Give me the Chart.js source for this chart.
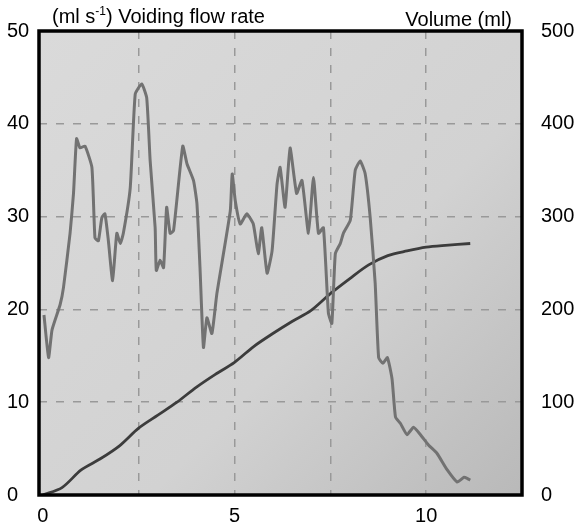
<!DOCTYPE html>
<html>
<head>
<meta charset="utf-8">
<script src="https://cdn.jsdelivr.net/npm/chart.js@4.4.1/dist/chart.umd.min.js"></script>
<style>
    html, body { margin: 0; padding: 0; background: #fff; }
    #wrap { width: 579px; height: 529px; }
</style>
</head>
<body>
<div id="wrap"><canvas id="flowChart" width="579" height="529"></canvas></div>
<script>
// Voiding flow (ml/s) over time (s)
const flowTime = [0.03, 0.15, 0.24, 0.45, 0.54, 0.71, 0.80, 0.88, 0.97, 1.10, 1.28, 1.36, 1.45, 1.54, 1.62, 1.71, 1.82, 1.93, 2.02, 2.10,
    2.28, 2.41, 2.58, 2.71, 2.80, 2.93, 2.96, 3.06, 3.15, 3.23, 3.32, 3.41, 3.65, 3.76, 3.93, 4.02, 4.10, 4.19, 4.28, 4.41,
    4.54, 4.89, 4.94, 5.02, 5.15, 5.32, 5.49, 5.62, 5.71, 5.85, 5.98, 6.11, 6.19, 6.32, 6.45, 6.62, 6.76, 6.93, 7.06, 7.19,
    7.32, 7.45, 7.54, 7.63, 7.76, 7.84, 8.02, 8.15, 8.28, 8.41, 8.54, 8.67, 8.76, 8.87, 8.99, 9.11, 9.20, 9.33, 9.50, 9.67,
    9.85, 10.06, 10.28, 10.55, 10.81, 10.98, 11.07, 11.15];
const flowRate = [19.4, 14.8, 17.8, 20.5, 22.4, 28.2, 32.5, 38.4, 37.4, 37.6, 35.3, 27.7, 27.4, 29.9, 30.3, 27.4, 23.1, 28.2, 27.1, 28.2,
    33.1, 43.2, 44.3, 42.8, 36.0, 28.8, 24.2, 25.3, 24.5, 31.0, 28.2, 28.5, 37.6, 35.7, 33.9, 31.4, 24.5, 15.9, 19.1, 17.4,
    21.7, 30.6, 34.6, 31.7, 29.2, 30.3, 29.2, 26.0, 28.8, 23.9, 26.3, 33.5, 35.3, 31.0, 37.4, 32.5, 33.9, 28.2, 34.2, 28.2,
    28.8, 19.6, 18.5, 26.0, 27.1, 28.2, 29.6, 35.0, 36.0, 34.6, 29.9, 22.8, 14.8, 14.2, 14.8, 12.5, 8.4, 7.7, 6.5, 7.3,
    6.5, 5.4, 4.5, 2.7, 1.4, 1.9, 1.8, 1.6];

// Voided volume (ml) over time (s)
const volumeTime = [0, 0.5, 1, 1.5, 2, 2.5, 3, 3.5, 4, 4.5, 5, 5.5, 6, 6.5, 7, 7.5, 8, 8.5, 9, 9.5, 10, 10.5, 11.15];
const volume = [0, 8, 27, 39, 53, 72, 86, 100, 116, 130, 143, 160, 174, 187, 199, 217, 233, 248, 258, 263, 267, 269, 271];

// Axis ticks
const xTicks = [0, 2.5, 5, 7.5, 10];
const xLabels = ['0', '', '5', '', '10'];
const flowTicks = [0, 10, 20, 30, 40, 50];
const volumeTicks = [0, 100, 200, 300, 400, 500];

const leftTitle = 'Voiding flow rate';
const rightTitle = 'Volume (ml)';

const font = "'Liberation Sans', Arial, sans-serif";

// grey paper background with a slight shading
const paperPlugin = {
    id: 'paper',
    beforeDraw(chart) {
        const { ctx, chartArea: a } = chart;
        const g = ctx.createLinearGradient(a.left, a.top, a.right, a.bottom);
        g.addColorStop(0, '#dadada');
        g.addColorStop(0.6, '#d2d2d2');
        g.addColorStop(1, '#b9b9b9');
        ctx.save();
        ctx.fillStyle = g;
        ctx.fillRect(a.left, a.top, a.right - a.left, a.bottom - a.top);
        ctx.restore();
    },
    afterDraw(chart) {
        const { ctx, chartArea: a } = chart;
        ctx.save();
        // black frame
        ctx.strokeStyle = '#000';
        ctx.lineWidth = 3.5;
        ctx.strokeRect(a.left, a.top, a.right - a.left, a.bottom - a.top);

        // axis titles on top
        ctx.fillStyle = '#000';
        ctx.textBaseline = 'alphabetic';
        ctx.font = '20px ' + font;
        let x = 52;
        const y = 23;
        ctx.textAlign = 'left';
        ctx.fillText('(ml s', x, y);
        x += ctx.measureText('(ml s').width;
        ctx.font = '12px ' + font;
        ctx.fillText('-1', x, y - 8);
        x += ctx.measureText('-1').width;
        ctx.font = '20px ' + font;
        ctx.fillText(') ' + leftTitle, x, y);

        ctx.textAlign = 'right';
        ctx.fillText(rightTitle, 512, 26);
        ctx.restore();
    }
};

const ctx = document.getElementById('flowChart').getContext('2d');
const flowChart = new Chart(ctx, {
    type: 'line',
    data: {
        datasets: [{
            label: 'Flow rate',
            data: flowTime.map((t, i) => ({ x: t, y: flowRate[i] })),
            yAxisID: 'y',
            borderColor: '#727272',
            borderWidth: 3,
            pointRadius: 0,
            tension: 0.15,
            fill: false
        }, {
            label: 'Volume',
            data: volumeTime.map((t, i) => ({ x: t, y: volume[i] })),
            yAxisID: 'y2',
            borderColor: '#3c3c3c',
            borderWidth: 2.8,
            pointRadius: 0,
            tension: 0.3,
            fill: false
        }]
    },
    options: {
        responsive: false,
        animation: false,
        layout: { padding: { left: 7, top: 30, right: 0, bottom: 0 } },
        plugins: {
            legend: { display: false },
            tooltip: { enabled: false }
        },
        scales: {
            x: {
                type: 'linear',
                min: -0.1,
                max: 12.5,
                afterBuildTicks: scale => { scale.ticks = xTicks.map(v => ({ value: v })); },
                afterFit: scale => { scale.height = 34; },
                ticks: {
                    color: '#000',
                    font: { size: 20, family: font },
                    padding: 9,
                    maxRotation: 0,
                    callback: (v, i) => xLabels[i]
                },
                grid: {
                    drawTicks: false,
                    color: c => (c.tick && c.tick.value === 0 ? 'rgba(0,0,0,0)' : '#999999'),
                    lineWidth: 1.5
                },
                border: { display: false, dash: [8, 9] }
            },
            y: {
                position: 'left',
                min: 0,
                max: 50,
                afterBuildTicks: scale => { scale.ticks = flowTicks.map(v => ({ value: v })); },
                afterFit: scale => { scale.width = 32; },
                ticks: {
                    color: '#000',
                    font: { size: 20, family: font },
                    crossAlign: 'far',
                    padding: 0
                },
                grid: {
                    drawTicks: false,
                    color: '#999999',
                    lineWidth: 1.5
                },
                border: { display: false, dash: [8, 9] }
            },
            y2: {
                position: 'right',
                min: 0,
                max: 500,
                afterBuildTicks: scale => { scale.ticks = volumeTicks.map(v => ({ value: v })); },
                afterFit: scale => { scale.width = 57; },
                ticks: {
                    color: '#000',
                    font: { size: 20, family: font },
                    padding: 19
                },
                grid: { display: false, drawTicks: false },
                border: { display: false }
            }
        }
    },
    plugins: [paperPlugin]
});
</script>
</body>
</html>
